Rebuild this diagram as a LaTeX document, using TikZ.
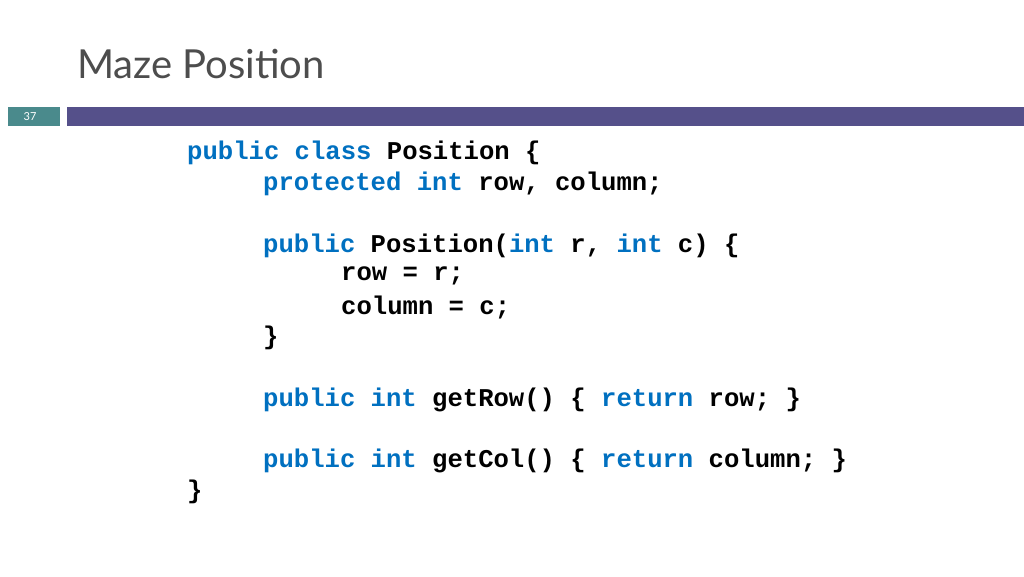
\documentclass[tikz,border=0pt]{standalone}
\usepackage{fontspec}
\setmainfont{Lato}
\setmonofont{Liberation Mono}
\usetikzlibrary{positioning}
\definecolor{kwblue}{HTML}{0070C0}
\definecolor{barpurple}{HTML}{55508A}
\definecolor{numteal}{HTML}{4A8A8C}
\definecolor{titlegray}{HTML}{4D4D4D}
\newcommand{\kw}[1]{\textcolor{kwblue}{#1}}
\begin{document}
\begin{tikzpicture}[x=1pt,y=1pt,
  codeline/.style={anchor=west, inner sep=0pt, font=\ttfamily\bfseries\fontsize{25.6}{30}\selectfont},
  titletext/.style={anchor=base west, inner sep=0pt, text=titlegray, font=\fontsize{40}{44}\selectfont}]
        \useasboundingbox[fill=white] (0,0) rectangle (1024,-576);

        \node[titletext] (title) at (77,-78) {Maze Position};
        \fill[numteal] (8,-107) rectangle (60,-126);
        \node[inner sep=0pt, text=white, font=\fontsize{11}{12}\selectfont] (num) at (30,-116.5) {37};
        \fill[barpurple] (67,-107) rectangle (1024,-126);

        \node[codeline] (1) at (187,-153) {\kw{public class} Position \{};
        \node[codeline] (2) at (263,-184) {\kw{protected int} row, column;};
        \node[codeline] (3) at (263,-245.5) {\kw{public} Position(\kw{int} r, \kw{int} c) \{};
        \node[codeline] (4) at (341,-276) {row = r;};
        \node[codeline] (5) at (341,-307) {column = c;};
        \node[codeline] (6) at (263,-338) {\}};
        \node[codeline] (7) at (263,-399.5) {\kw{public int} getRow() \{ \kw{return} row; \}};
        \node[codeline] (8) at (263,-461) {\kw{public int} getCol() \{ \kw{return} column; \}};
        \node[codeline] (9) at (187,-492) {\}};

        \end{tikzpicture}
\end{document}
